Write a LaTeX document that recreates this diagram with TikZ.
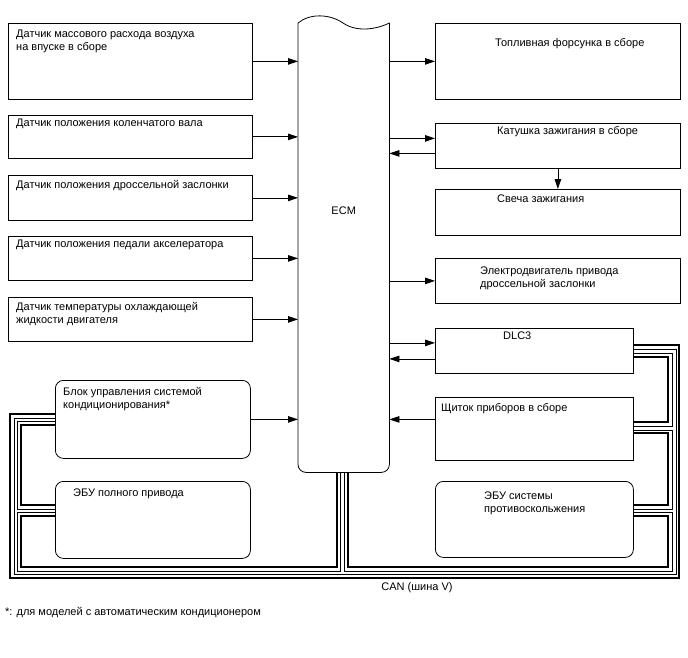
\documentclass[tikz,border=0pt]{standalone}
\usepackage{fontspec}
\setmainfont{Liberation Sans}
\usetikzlibrary{arrows.meta}

\begin{document}
\begin{tikzpicture}[
    x=1pt, y=-1pt,
    font=\fontsize{11}{12.8}\selectfont,
    blk/.style={draw, line width=0.8pt, anchor=north west, inner sep=0pt},
    ecu/.style={blk, rounded corners=8pt},
    txt/.style={anchor=north west, inner sep=0pt, align=left},
    ar/.style={-{Triangle[length=10pt, width=6.5pt]}, line width=0.8pt},
    thk/.style={line width=1.8pt},
    thn/.style={line width=0.7pt}
  ]
    \useasboundingbox (0,0) rectangle (688,658);
    % inputs
    \node[blk, minimum width=244, minimum height=76, label={[txt, xshift=8pt, yshift=-7pt]north west:{Датчик массового расхода воздуха\\на впуске в сборе}}] (maf) at (8,23) {};
    \node[blk, minimum width=244, minimum height=43, label={[txt, xshift=8pt, yshift=-4pt]north west:{Датчик положения коленчатого вала}}] (ckp) at (8,115) {};
    \node[blk, minimum width=244, minimum height=45, label={[txt, xshift=8pt, yshift=-5pt]north west:{Датчик положения дроссельной заслонки}}] (tps) at (8,175) {};
    \node[blk, minimum width=244, minimum height=44, label={[txt, xshift=8pt, yshift=-4pt]north west:{Датчик положения педали акселератора}}] (app) at (8,236) {};
    \node[blk, minimum width=244, minimum height=44, label={[txt, xshift=8pt, yshift=-5pt]north west:{Датчик температуры охлаждающей\\жидкости двигателя}}] (ect) at (8,297) {};
    \node[ecu, minimum width=195, minimum height=78, label={[txt, xshift=8pt, yshift=-7pt]north west:{Блок управления системой\\кондиционирования*}}] (ac) at (55,380) {};
    \node[ecu, minimum width=195, minimum height=77, label={[txt, xshift=18pt, yshift=-8pt]north west:{ЭБУ полного привода}}] (awd) at (55,481) {};
    % ECM
    \node[anchor=north west, inner sep=0pt, minimum width=91, minimum height=449, label={[anchor=north, inner sep=0pt, yshift=-184pt]north:ECM}] (ecm) at (298,23) {};
    \draw[line width=0.8pt, rounded corners=8pt] (ecm.north west) -- (ecm.south west) -- (ecm.south east) -- (ecm.north east);
    \draw[line width=0.8pt] (ecm.north west) .. controls (310,13) and (330,14) .. (343,23) .. controls (356,32) and (375,30) .. (ecm.north east);
    % outputs
    \node[blk, minimum width=245, minimum height=76, label={[txt, xshift=60pt, yshift=-15pt]north west:{Топливная форсунка в сборе}}] (inj) at (435,23) {};
    \node[blk, minimum width=245, minimum height=45, label={[txt, xshift=62pt, yshift=-3pt]north west:{Катушка зажигания в сборе}}] (ig) at (435,123) {};
    \node[blk, minimum width=245, minimum height=46, label={[txt, xshift=62pt, yshift=-6pt]north west:{Свеча зажигания}}] (plug) at (435,189) {};
    \node[blk, minimum width=245, minimum height=45, label={[txt, xshift=45pt, yshift=-9pt]north west:{Электродвигатель привода\\дроссельной заслонки}}] (thr) at (435,258) {};
    \node[blk, minimum width=198, minimum height=45, label={[txt, xshift=68pt, yshift=-4pt]north west:{DLC3}}] (dlc) at (435,328) {};
    \node[blk, minimum width=198, minimum height=63, label={[txt, xshift=6pt, yshift=-6pt]north west:{Щиток приборов в сборе}}] (meter) at (435,397) {};
    \node[ecu, minimum width=198, minimum height=76, label={[txt, xshift=49pt, yshift=-11pt]north west:{ЭБУ системы\\противоскольжения}}] (vsc) at (435,481) {};
    \node (can) at (417,588) {CAN (шина V)};
    \node[anchor=west, inner sep=0pt] (note) at (5,613) {*: для моделей с автоматическим кондиционером};

    \draw[ar] (maf.east) -- (maf.east -| ecm.west);
    \draw[ar] (ckp.east) -- (ckp.east -| ecm.west);
    \draw[ar] (tps.east) -- (tps.east -| ecm.west);
    \draw[ar] (app.east) -- (app.east -| ecm.west);
    \draw[ar] (ect.east) -- (ect.east -| ecm.west);
    \draw[ar] (ac.east) -- (ac.east -| ecm.west);
    \draw[ar] (inj.west -| ecm.east) -- (inj.west);
    \draw[ar] ([yshift=7.5pt]ig.west -| ecm.east) -- ([yshift=7.5pt]ig.west);
    \draw[ar] ([yshift=-7.5pt]ig.west) -- ([yshift=-7.5pt]ig.west -| ecm.east);
    \draw[ar] (ig.south) -- (plug.north);
    \draw[ar] (thr.west -| ecm.east) -- (thr.west);
    \draw[ar] ([yshift=8pt]dlc.west -| ecm.east) -- ([yshift=8pt]dlc.west);
    \draw[ar] ([yshift=-8pt]dlc.west) -- ([yshift=-8pt]dlc.west -| ecm.east);
    \draw[ar] ([yshift=9.5pt]meter.west) -- ([yshift=9.5pt]meter.west -| ecm.east);

    % CAN bus
    \draw[thk] ([yshift=-34pt]ac.north west) -| (10,578) -| (679,345) -- ([yshift=-17pt]dlc.north east);
    \draw[thn] ([yshift=-38pt]ac.north west) -| (14,574) -| (676,349) -- ([yshift=-21pt]dlc.north east);
    \draw[thn] ([yshift=-41pt]ac.north west) -| (17,509) -- ([yshift=-28pt]awd.north west);
    \draw[thk] ([yshift=-45pt]ac.north west) -| (21,505) -- ([yshift=-24pt]awd.north west);
    \draw[thn] ([yshift=-31pt]awd.north west) -| (17,571) -| ([xshift=-3pt]ecm.south);
    \draw[thk] ([yshift=-35pt]awd.north west) -| (21,567) -| ([xshift=-6.5pt]ecm.south);
    \draw[thn] ([yshift=-25pt]dlc.north east) -| (672,426) -- ([yshift=-29pt]meter.north east);
    \draw[thk] ([yshift=-29pt]dlc.north east) -| (668,422) -- ([yshift=-25pt]meter.north east);
    \draw[thn] ([yshift=-33pt]meter.north east) -| (672,509) -- ([yshift=-28pt]vsc.north east);
    \draw[thk] ([yshift=-36pt]meter.north east) -| (668,505) -- ([yshift=-24pt]vsc.north east);
    \draw[thn] ([yshift=-31pt]vsc.north east) -| (672,571) -| ([xshift=1pt]ecm.south);
    \draw[thk] ([yshift=-35pt]vsc.north east) -| (668,567) -| ([xshift=4.5pt]ecm.south);
\end{tikzpicture}
\end{document}
